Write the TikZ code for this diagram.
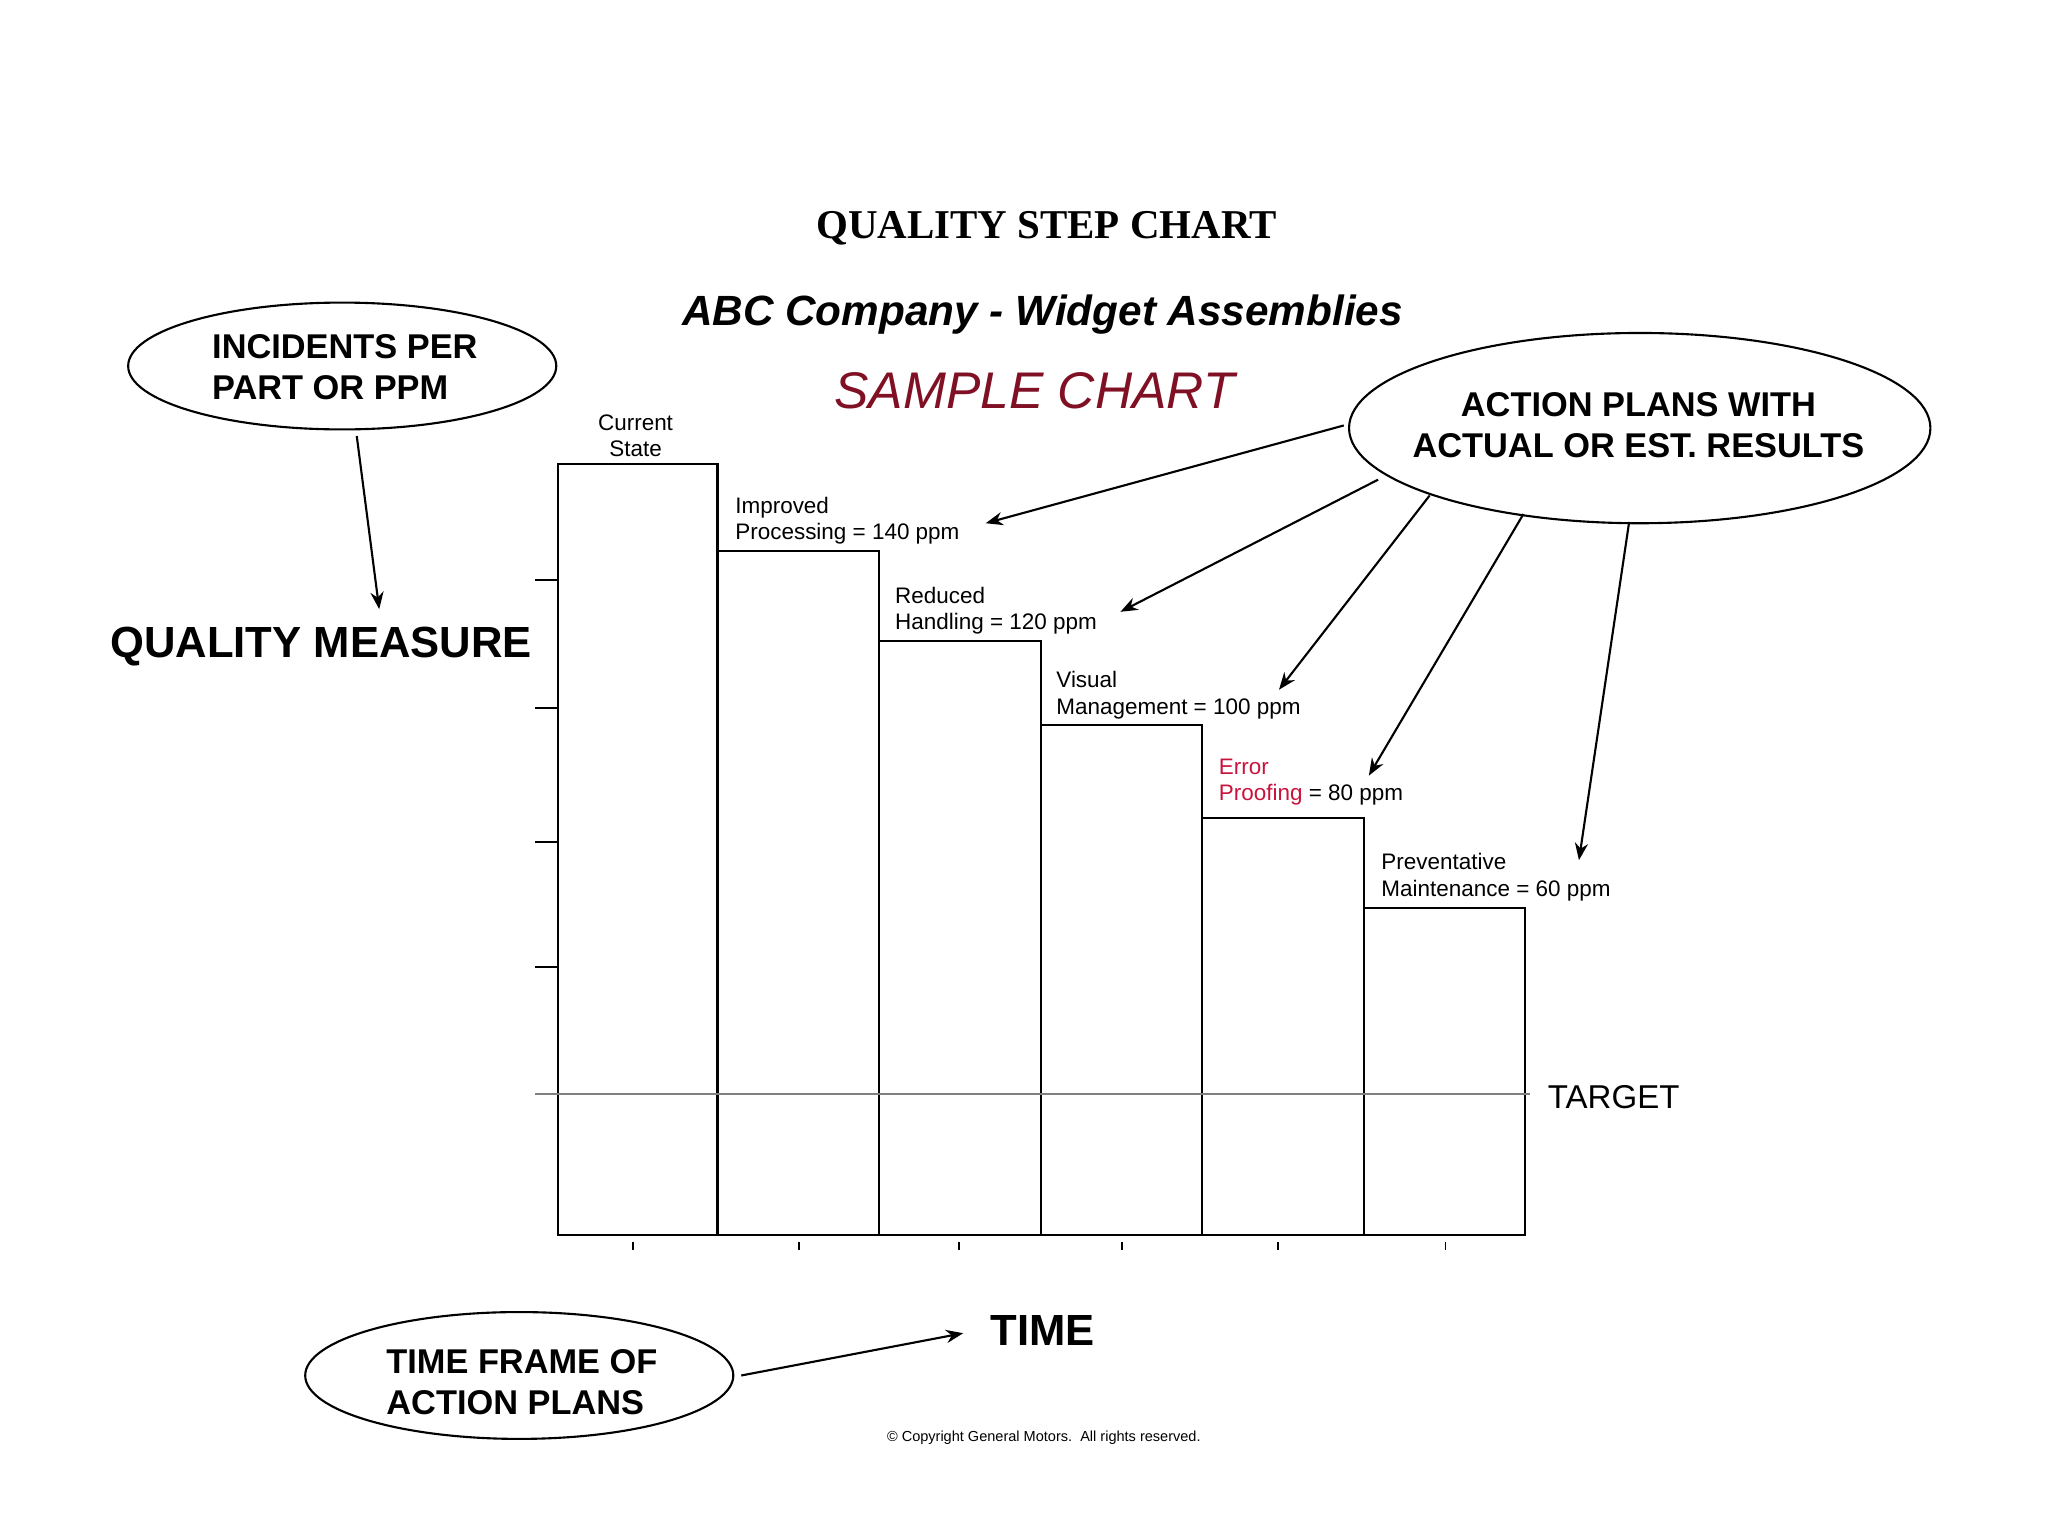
\documentclass[tikz,border=0pt]{standalone}
\usepackage{fontspec}
\setmainfont{Liberation Sans}
\newfontfamily\serifb{Liberation Serif}
\usetikzlibrary{shapes.geometric,arrows.meta}
\definecolor{darkred}{RGB}{128,16,36}
\definecolor{errred}{RGB}{200,20,60}
\begin{document}
\begin{tikzpicture}[x=1pt,y=-1pt,
  bar/.style={draw,line width=1.6pt},
  oval/.style={draw,ellipse,line width=1.6pt,inner sep=0pt},
  arr/.style={line width=1.6pt,-{Stealth[length=13pt,width=10pt]}},
  lab/.style={font=\fontsize{17}{20}\selectfont,align=left,anchor=west},
  big/.style={font=\fontsize{33}{38}\selectfont\bfseries},
  ovtxt/.style={font=\fontsize{26}{31}\selectfont\bfseries,align=left}]
\useasboundingbox (0,0) rectangle (1550,1162.5);
\node[font=\serifb\fontsize{31}{36}\selectfont\bfseries] (t1) at (792,173) {QUALITY STEP CHART};
\node[font=\fontsize{32}{36}\selectfont\bfseries\itshape] (t2) at (789,238) {ABC Company - Widget Assemblies};
\node[font=\fontsize{39}{44}\selectfont\itshape,text=darkred] (t3) at (783,296) {SAMPLE CHART};
% bars
\draw[bar] (422,935) rectangle (543,351);
\draw[bar] (543,935) rectangle (665,417);
\draw[bar] (665,935) rectangle (788,485);
\draw[bar] (788,935) rectangle (910,549);
\draw[bar] (910,935) rectangle (1032,619);
\draw[bar] (1032,935) rectangle (1154,687);
\foreach \y in {439,536,637,732,828} \draw[line width=1.6pt] (405,\y) -- (422,\y);
\foreach \x in {479,605,726,849,967,1094} \draw[line width=1.4pt] (\x,940) -- (\x,946);
\draw[gray,line width=1.6pt] (405,828) -- (1158,828);
\node[anchor=west,font=\fontsize{25}{28}\selectfont] (tg) at (1168,830) {TARGET};
% labels
\node[font=\fontsize{17}{20}\selectfont,align=center] (l1) at (481,330) {Current\\State};
\node[lab] (l2) at (553,394) {Improved\\Processing = 140 ppm};
\node[lab] (l3) at (674,462) {Reduced\\Handling = 120 ppm};
\node[lab] (l4) at (796,526) {Visual\\Management = 100 ppm};
\node[lab] (l5) at (919,592) {\textcolor{errred}{Error}\\\textcolor{errred}{Proofing} = 80 ppm};
\node[lab] (l6) at (1042,664) {Preventative\\Maintenance = 60 ppm};
% ovals
\node[oval,minimum width=324pt,minimum height=96pt] (e1) at (259,277) {};
\node[ovtxt] at (261,278) {INCIDENTS PER\\PART OR PPM};
\node[oval,minimum width=440pt,minimum height=144pt] (e2) at (1241,324) {};
\node[ovtxt,align=center] at (1240,322) {ACTION PLANS WITH\\ACTUAL OR EST. RESULTS};
\node[oval,minimum width=324pt,minimum height=96pt] (e3) at (393,1041) {};
\node[ovtxt] at (395,1046) {TIME FRAME OF\\ACTION PLANS};
\node[big] (qm) at (243,489) {QUALITY MEASURE};
\node[big] (tm) at (789,1007) {TIME};
\node[font=\fontsize{11}{13}\selectfont] (cp) at (790,1088) {© Copyright General Motors.\ \ All rights reserved.};
% arrows
\coordinate (a0) at (270,330); \coordinate (b0) at (287,461);
\draw[arr] (a0) -- (b0);
\coordinate (a1) at (1017,322); \coordinate (b1) at (746,396);
\coordinate (a2) at (1043,363); \coordinate (b2) at (848,463);
\coordinate (a3) at (1082,375); \coordinate (b3) at (968,522);
\coordinate (a4) at (1153,389); \coordinate (b4) at (1036,587);
\coordinate (a5) at (1233,395); \coordinate (b5) at (1195,651);
\foreach \i in {1,...,5} \draw[arr] (a\i) -- (b\i);
\coordinate (a6) at (561,1041); \coordinate (b6) at (729,1009);
\draw[arr] (a6) -- (b6);
\end{tikzpicture}
\end{document}
